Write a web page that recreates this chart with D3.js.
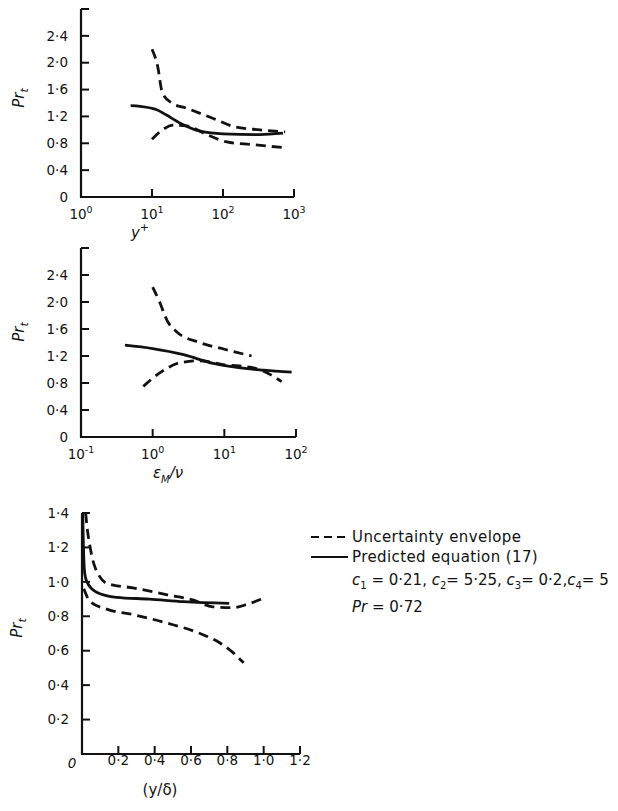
<!DOCTYPE html>
<html>
<head>
<meta charset="utf-8">
<script src="https://cdn.jsdelivr.net/npm/d3@7"></script>
<style>
  html, body { margin: 0; padding: 0; background: #fff; }
  svg { display: block; }
  text { font-family: "DejaVu Sans", sans-serif; fill: #111; }
</style>
</head>
<body>
<svg id="chart" width="618" height="811"></svg>
<script>
// ---------- Data ----------
// Panel 1: Pr_t vs y+
const p1SolidX = [5, 6.8, 11.7, 16, 25, 48, 100, 330, 700];
const p1SolidY = [1.36, 1.35, 1.30, 1.22, 1.10, 0.98, 0.94, 0.93, 0.95];
const p1UpperX = [10, 12, 14, 19, 31, 73, 140, 330, 750];
const p1UpperY = [2.2, 1.95, 1.55, 1.40, 1.32, 1.17, 1.05, 1.00, 0.97];
const p1LowerX = [10, 14, 20, 31, 59, 113, 265, 800];
const p1LowerY = [0.86, 1.00, 1.07, 1.06, 0.93, 0.82, 0.78, 0.73];

// Panel 2: Pr_t vs eps_M / nu
const p2SolidX = [0.41, 1.0, 2.7, 7, 15, 36, 87];
const p2SolidY = [1.36, 1.31, 1.22, 1.09, 1.03, 0.99, 0.96];
const p2UpperX = [1.0, 1.25, 1.6, 2.1, 4.5, 10, 24];
const p2UpperY = [2.22, 2.0, 1.72, 1.57, 1.40, 1.30, 1.20];
const p2LowerX = [0.74, 1.3, 2.4, 4.5, 10, 24, 36, 63];
const p2LowerY = [0.75, 0.96, 1.10, 1.13, 1.07, 1.03, 0.97, 0.82];

// Panel 3: Pr_t vs y/delta
const p3SolidX = [0.004, 0.008, 0.015, 0.027, 0.08, 0.19, 0.37, 0.56, 0.81];
const p3SolidY = [1.40, 1.20, 1.05, 1.00, 0.94, 0.91, 0.90, 0.885, 0.875];
const p3UpperX = [0.02, 0.03, 0.045, 0.07, 0.14, 0.28, 0.47, 0.61, 0.72, 0.83, 0.91, 1.0];
const p3UpperY = [1.40, 1.30, 1.20, 1.09, 0.99, 0.965, 0.925, 0.895, 0.855, 0.85, 0.87, 0.905];
const p3LowerX = [0.01, 0.045, 0.14, 0.28, 0.47, 0.65, 0.76, 0.83, 0.89];
const p3LowerY = [0.96, 0.885, 0.84, 0.81, 0.76, 0.70, 0.645, 0.59, 0.53];

// Tick values / labels
const yTicksTop = [0, 0.4, 0.8, 1.2, 1.6, 2.0, 2.4, 2.8];
const yTickLabelsTop = ["0", "0·4", "0·8", "1·2", "1·6", "2·0", "2·4", ""];
const xTicksP1 = [1, 10, 100, 1000];
const xExpP1 = ["0", "1", "2", "3"];
const xTicksP2 = [0.1, 1, 10, 100];
const xExpP2 = ["-1", "0", "1", "2"];
const yTicksP3 = [0, 0.2, 0.4, 0.6, 0.8, 1.0, 1.2, 1.4];
const yTickLabelsP3 = ["", "0·2", "0·4", "0·6", "0·8", "1·0", "1·2", "1·4"];
const xTicksP3 = [0, 0.2, 0.4, 0.6, 0.8, 1.0, 1.2];
const xTickLabelsP3 = ["", "0·2", "0·4", "0·6", "0·8", "1·0", "1·2"];

const legendItems = ["Uncertainty envelope", "Predicted equation (17)"];

// ---------- Drawing ----------
const svg = d3.select("#chart");
const INK = "#111";
const DASH = "10,6";
const TICKFONT = 13.5;

function zip(xs, ys) { return xs.map((x, i) => [x, ys[i]]); }

function drawPanel(o) {
  const g = svg.append("g");
  const x = o.x, y = o.y;
  const [x0, x1] = x.range();
  const [yb, yt] = y.range();

  g.append("path")
    .attr("d", `M${x0},${yt} L${x0},${yb} L${x1},${yb}`)
    .attr("fill", "none").attr("stroke", INK).attr("stroke-width", 2.2);

  o.yTicks.forEach((v, i) => {
    const yy = y(v);
    if (v !== 0) {
      g.append("line").attr("x1", x0).attr("x2", x0 + 8).attr("y1", yy).attr("y2", yy)
        .attr("stroke", INK).attr("stroke-width", 2);
    }
    if (o.yLabels[i]) {
      g.append("text").attr("x", x0 - 13).attr("y", yy).attr("dy", "0.35em")
        .attr("text-anchor", "end").attr("font-size", TICKFONT).text(o.yLabels[i]);
    }
  });

  o.xTicks.forEach((v, i) => {
    const xx = x(v);
    if (i > 0) {
      g.append("line").attr("x1", xx).attr("x2", xx).attr("y1", yb).attr("y2", yb - 8)
        .attr("stroke", INK).attr("stroke-width", 2);
    }
    if (o.xExp) {
      const t = g.append("text").attr("x", xx).attr("y", yb + o.xLabelOffset)
        .attr("text-anchor", "middle").attr("font-size", TICKFONT);
      t.append("tspan").text("10");
      t.append("tspan").attr("font-size", 9.5).attr("dy", -6).text(o.xExp[i]);
    } else if (o.xLabels[i]) {
      g.append("text").attr("x", xx).attr("y", yb + o.xLabelOffset)
        .attr("text-anchor", "middle").attr("font-size", TICKFONT).text(o.xLabels[i]);
    }
  });

  const line = d3.line().x(d => x(d[0])).y(d => y(d[1])).curve(d3.curveMonotoneX);
  o.series.forEach(s => {
    g.append("path").datum(s.data).attr("d", line)
      .attr("fill", "none").attr("stroke", INK)
      .attr("stroke-width", 2.8)
      .attr("stroke-dasharray", s.dashed ? DASH : null)
      .attr("stroke-linecap", "butt");
  });

  const yt0 = g.append("text")
    .attr("transform", `translate(${o.yTitlePos[0]},${o.yTitlePos[1]}) rotate(-90)`)
    .attr("text-anchor", "middle").attr("font-size", 15).attr("font-style", "italic");
  yt0.append("tspan").text("Pr");
  yt0.append("tspan").attr("font-size", 11).attr("dy", 4).text("t");

  return g;
}

// Panel 1
const x1s = d3.scaleLog().domain([1, 1000]).range([81, 294]);
const y1s = d3.scaleLinear().domain([0, 2.8]).range([197, 9]);
const g1 = drawPanel({
  x: x1s, y: y1s, yTicks: yTicksTop, yLabels: yTickLabelsTop,
  xTicks: xTicksP1, xExp: xExpP1, xLabelOffset: 22,
  yTitlePos: [24, 98],
  series: [
    { data: zip(p1SolidX, p1SolidY), dashed: false },
    { data: zip(p1UpperX, p1UpperY), dashed: true },
    { data: zip(p1LowerX, p1LowerY), dashed: true }
  ]
});
{
  const t = g1.append("text").attr("x", 140).attr("y", 238).attr("text-anchor", "middle")
    .attr("font-size", 15).attr("font-style", "italic");
  t.append("tspan").text("y");
  t.append("tspan").attr("font-size", 11).attr("dy", -7).text("+");
}

// Panel 2
const x2s = d3.scaleLog().domain([0.1, 100]).range([81, 296]);
const y2s = d3.scaleLinear().domain([0, 2.8]).range([437, 248]);
const g2 = drawPanel({
  x: x2s, y: y2s, yTicks: yTicksTop, yLabels: yTickLabelsTop,
  xTicks: xTicksP2, xExp: xExpP2, xLabelOffset: 22,
  yTitlePos: [24, 332],
  series: [
    { data: zip(p2SolidX, p2SolidY), dashed: false },
    { data: zip(p2UpperX, p2UpperY), dashed: true },
    { data: zip(p2LowerX, p2LowerY), dashed: true }
  ]
});
{
  const t = g2.append("text").attr("x", 168).attr("y", 478).attr("text-anchor", "middle")
    .attr("font-size", 15).attr("font-style", "italic");
  t.append("tspan").text("ε");
  t.append("tspan").attr("font-size", 10).attr("dy", 5).text("M");
  t.append("tspan").attr("dy", -5).text("/ν");
}

// Panel 3
const x3s = d3.scaleLinear().domain([0, 1.2]).range([82, 300]);
const y3s = d3.scaleLinear().domain([0, 1.4]).range([754, 513]);
const g3 = drawPanel({
  x: x3s, y: y3s, yTicks: yTicksP3, yLabels: yTickLabelsP3,
  xTicks: xTicksP3, xLabels: xTickLabelsP3, xLabelOffset: 11,
  yTitlePos: [22, 628],
  series: [
    { data: zip(p3SolidX, p3SolidY), dashed: false },
    { data: zip(p3UpperX, p3UpperY), dashed: true },
    { data: zip(p3LowerX, p3LowerY), dashed: true }
  ]
});
g3.append("text").attr("x", 72).attr("y", 768).attr("text-anchor", "middle")
  .attr("font-size", TICKFONT).attr("font-style", "italic").text("0");
g3.append("text").attr("x", 160).attr("y", 795).attr("text-anchor", "middle")
  .attr("font-size", 15).text("(y/δ)");

// Legend
const lg = svg.append("g");
const legY = [537, 557];
const LEGFONT = 15;
legendItems.forEach((txt, i) => {
  lg.append("line").attr("x1", 311).attr("x2", 348).attr("y1", legY[i]).attr("y2", legY[i])
    .attr("stroke", INK).attr("stroke-width", 2.2)
    .attr("stroke-dasharray", i === 0 ? "8,5" : null);
  lg.append("text").attr("x", 352).attr("y", legY[i]).attr("dy", "0.35em")
    .attr("font-size", LEGFONT).attr("letter-spacing", 0.4).text(txt);
});
{
  const t = lg.append("text").attr("x", 352).attr("y", 580).attr("dy", "0.35em").attr("font-size", LEGFONT);
  const parts = [["c", "1", " = 0·21,  "], ["c", "2", "= 5·25,  "], ["c", "3", "= 0·2,"], ["c", "4", "= 5"]];
  parts.forEach(p => {
    t.append("tspan").attr("font-style", "italic").text(p[0]);
    t.append("tspan").attr("font-size", 10).attr("dy", 4).text(p[1]);
    t.append("tspan").attr("dy", -4).text(p[2]);
  });
  const t2 = lg.append("text").attr("x", 352).attr("y", 607).attr("dy", "0.35em").attr("font-size", LEGFONT);
  t2.append("tspan").attr("font-style", "italic").text("Pr");
  t2.append("tspan").text(" = 0·72");
}
</script>
</body>
</html>
